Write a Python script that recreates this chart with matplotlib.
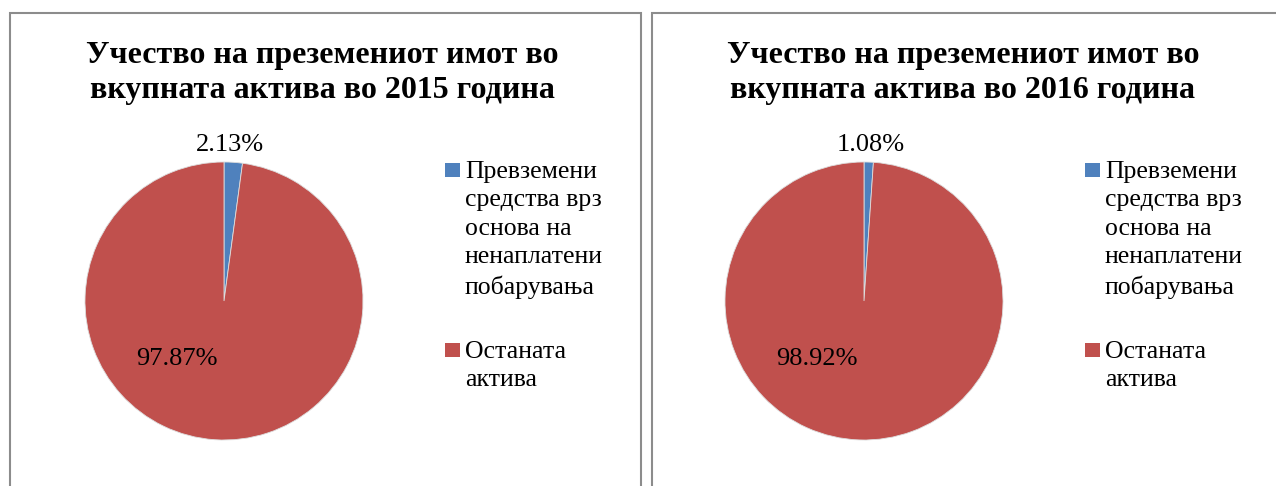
import matplotlib.pyplot as plt
from matplotlib.patches import Rectangle

plt.rcParams['font.family'] = ['Liberation Serif', 'DejaVu Serif']

# податоци
years = ["2015", "2016"]
categories = ["Превземени\nсредства врз\nоснова на\nненаплатени\nпобарувања", "Останата\nактива"]
share_2015 = [2.13, 97.87]
share_2016 = [1.08, 98.92]
shares = [share_2015, share_2016]
colors = ["#4F81BD", "#C0504D"]

W, H = 1276, 486
fig = plt.figure(figsize=(W / 100, H / 100), dpi=100)


def px_rect(x0, y0, x1, y1):
    # пиксели (од горе) -> фигура
    return [x0 / W, 1 - y1 / H, (x1 - x0) / W, (y1 - y0) / H]


panels = [(10, 13, 641, 490), (652, 13, 1280, 490)]
pie_cx = [224, 864]
pie_cy = 301
pie_r = 139

for k in range(2):
    x0, y0, x1, y1 = panels[k]
    fig.add_artist(Rectangle((x0 / W, 1 - y1 / H), (x1 - x0) / W, (y1 - y0) / H,
                             transform=fig.transFigure, fill=False,
                             edgecolor="#8c8c8c", linewidth=1.5))
    fig.text((x0 + x1) / 2 / W - 3 / W, 1 - 73 / H,
             "Учество на преземениот имот во\nвкупната актива во " + years[k] + " година",
             ha="center", va="center", fontsize=23, fontweight="bold", linespacing=1.3)

    cx = pie_cx[k]
    ax = fig.add_axes(px_rect(cx - pie_r, pie_cy - pie_r, cx + pie_r, pie_cy + pie_r))
    vals = shares[k]
    ax.pie(vals, colors=colors, startangle=90, counterclock=False,
           wedgeprops=dict(linewidth=0.6, edgecolor="#dddddd"))
    ax.set_xlim(-1, 1)
    ax.set_ylim(-1, 1)
    ax.set_aspect("equal")
    ax.axis("off")
    # ознаки
    ax.text(0.045, 1.12, "%.2f%%" % vals[0], ha="center", va="center", fontsize=19)
    ax.text(-0.34, -0.42, "%.2f%%" % vals[1], ha="center", va="center", fontsize=19)

    # легенда
    lx = cx + 221
    ly = [161, 341]
    for i in range(len(categories)):
        fig.add_artist(Rectangle((lx / W, 1 - (ly[i] + 16) / H), 15 / W, 14 / H,
                                 transform=fig.transFigure, facecolor=colors[i],
                                 edgecolor="none"))
        fig.text((lx + 20) / W, 1 - ly[i] / H, categories[i], ha="left", va="top",
                 fontsize=18.5, linespacing=1.38)

fig.savefig("out.png", dpi=100)
